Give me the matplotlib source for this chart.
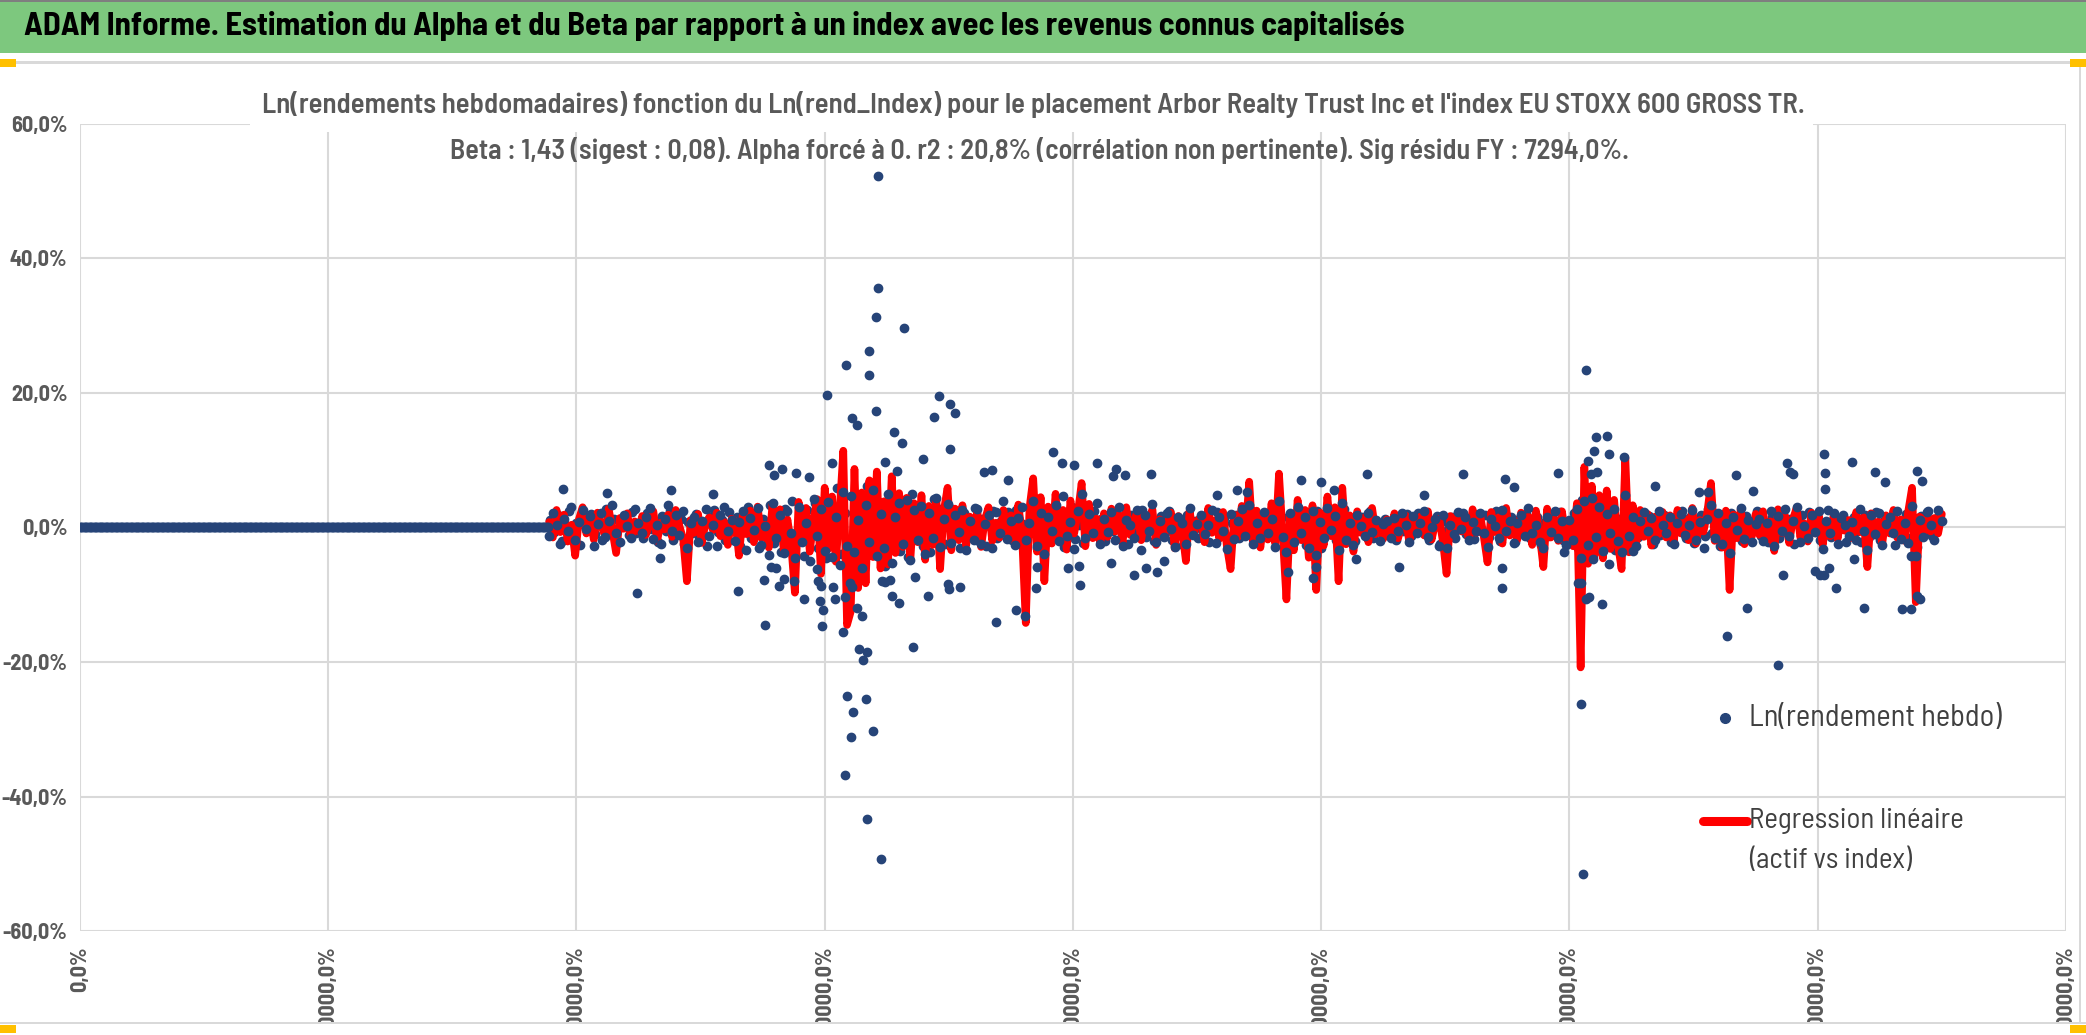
import numpy as np
import matplotlib
matplotlib.use("Agg")
import matplotlib.pyplot as plt
from matplotlib.patches import Rectangle
from matplotlib.lines import Line2D
from matplotlib.ticker import FuncFormatter, MultipleLocator

plt.rcParams['font.family'] = ['Barlow Semi Condensed', 'Archivo Narrow', 'Liberation Sans', 'DejaVu Sans']

# ---- data (weeks on x, log weekly returns in % on y) ----
flat_weeks = 378          # weeks 0..377 : no price history, value 0
week_start = 378          # first week with real data
week_step = 3             # the band below is read every 3 weeks

# regression line (beta * ln index return), %
red_vals = [
    0.8, -1.5, 2.6, -0.7, 1.9, -2.1, 0.4, -4.2, 1.2, 3.0, -0.9, 1.6, -1.8, 2.2, 0.3, -1.2, 2.8, -0.5, -3.8, 1.4, -0.2, 2.1, -1.6, 0.9, -0.6,
    1.7, -1.1, 0.5, 2.4, -2.0, 0.7, -0.3, 1.9, -1.4, 2.6, 0.2, -1.7, -8.0, 1.1, -0.8, 2.0, -2.3, 0.6, 1.5, -0.4, 2.2, -1.3, 0.8, -2.6, 1.3,
    0.9, -4.2, 1.8, -1.0, 2.5, -2.2, 3.1, -1.6, 0.4, -3.0, 3.5, -0.8, 2.7, -3.4, 1.2, -2.5, -9.7, 3.8, -1.9, 2.9, -3.6, 1.0, 4.2, -6.9, 5.9,
    -3.2, 4.6, -5.1, 2.3, 11.4, -14.5, -12.5, 8.7, -9.0, 5.2, -8.3, 7.0, -4.4, 8.3, -6.1, 3.9, -5.5, 7.6, -3.8, 5.1, -2.9, 4.4, -4.9, 3.6, -2.2,
    4.8, -4.8, 3.2, -2.6, 4.1, -6.2, 2.5, 5.9, -3.4, 2.8, -1.9, 3.3, -2.7, 1.6, -1.2, 2.4, -2.9, 1.1, 3.0, -2.0, 0.7, -1.5, 2.6, -0.9, 1.8,
    -2.2, 3.4, -1.1, -14.2, 2.9, 7.3, -3.6, 4.5, -8.0, 3.1, -2.4, 5.0, -1.8, 2.6, -3.3, 4.0, -0.9, 2.2, 6.6, -2.8, 3.5, -1.6, 1.3, -2.5, 2.1,
    -1.4, 2.8, -0.6, 1.9, -2.3, 3.0, -1.1, 0.8, 2.4, -1.9, 1.5, -0.7, 2.7, -2.6, 1.2, -1.5, 0.6, 2.2, -3.1, 1.7, -0.4, -5.0, 2.5, -1.2, 0.9,
    1.6, -2.2, 2.9, -0.8, 1.1, -1.7, 2.3, -2.8, -6.2, 1.9, -1.4, 3.2, -0.9, 6.8, -2.1, 2.5, -3.0, 1.4, -1.8, 3.6, -2.4, 8.0, -1.2, -10.7, 2.0,
    -3.4, 4.1, -1.9, 2.6, -4.5, 3.3, -9.3, 2.2, -2.7, 4.6, -1.3, 3.0, -8.0, 5.9, -2.5, 1.8, -3.6, 2.4, -0.8, 1.5, -2.2, 2.9, -1.0, 0.6, -1.7,
    1.2, -0.9, 2.1, -1.6, 0.7, 1.8, -2.3, 0.9, -0.5, 1.6, -1.2, 2.4, -1.8, 0.8, 1.3, -2.0, -6.9, 1.7, -1.1, 2.2, -0.6, 1.0, -1.9, 2.7, -0.8,
    1.9, -1.4, -5.2, 2.3, -0.7, 1.5, -2.4, 2.9, -1.2, 0.6, -1.8, 2.2, -0.9, 1.6, -2.6, 2.5, -1.1, -5.9, 2.8, -1.5, 1.2, -2.0, 2.4, -1.6, 0.5,
    -2.8, 3.6, -20.8, 9.0, -5.4, 6.2, -3.9, 4.8, -4.6, 5.5, -3.2, 4.1, -2.5, -6.2, 10.4, -3.7, 3.3, -2.1, 2.6, -1.4, 2.0, -2.7, 1.6, -1.0, 2.3,
    -1.5, 1.8, -2.2, 2.6, -0.9, 1.3, -1.9, 2.9, -2.4, 1.1, -0.6, 2.2, 6.6, -2.0, 1.4, -3.0, 2.5, -9.3, 1.9, -1.6, 2.8, -2.5, 0.8, -1.3, 2.0,
    -1.1, 2.4, -1.8, 0.9, -3.5, 2.7, -0.8, 1.6, -2.3, 1.2, 2.9, -1.5, 0.6, -2.1, 2.2, -0.9, 1.7, -2.6, 0.8, -1.3, 2.0, -1.7, 1.4, -0.5, 1.1,
    -1.6, 2.3, -0.7, 1.5, -5.9, 2.1, -1.2, 0.9, -2.4, 1.8, -0.9, 2.6, -1.5, 1.2, -2.0, 2.5, 5.9, -11.1, 1.6, -1.1, 2.2, -0.6, 1.4, -0.9, 2.0,
]

# weekly log returns of the asset, band weeks 378, 381, ... (%)
blue_core = [
    -1.2, 2.1, 0.4, -2.5, 1.3, -0.6, 3.1, -1.9, 0.8, 2.6, -0.3, 1.7, -2.8, 0.5, 2.2, -1.4, 1.0, 3.4, -0.9, -2.1, 1.9, 0.2, -1.6, 2.8, 0.6,
    -0.8, 1.6, 2.9, -1.7, 0.3, -2.4, 1.2, 3.3, -0.5, 1.9, -1.1, 2.4, -3.0, 0.7, 1.5, -2.2, 0.9, 2.7, -1.3, 0.4, -2.7, 1.8, 3.0, -0.6, 1.1,
    -2.0, 0.8, 2.5, -3.3, 1.4, -0.4, 2.9, -2.6, 0.2, -4.1, 3.6, -1.5, 1.9, -3.8, 2.4, -0.9, -4.6, 3.1, -2.2, 0.6, -5.0, 4.3, -1.2, 2.7, -3.5,
    3.8, -4.4, 1.6, -5.6, 5.2, -2.8, 4.6, -3.7, 1.1, -6.0, 3.4, -2.1, 5.5, -4.2, 2.0, -3.0, 4.9, -5.3, 1.5, 3.7, -2.4, 4.1, -4.8, 2.6, -1.8,
    3.2, -3.9, 2.2, -1.6, 4.4, -2.9, 1.3, 3.5, -2.3, 1.8, -0.7, 2.6, -3.4, 1.0, -1.9, 2.8, -2.5, 0.5, 1.9, -3.1, 2.3, -0.8, 3.9, -1.7, 0.9,
    -2.6, 1.4, 3.1, -1.8, 0.6, 4.0, -2.7, 2.2, -3.9, 1.5, -0.5, 3.3, -2.0, 4.6, -1.3, 0.8, -3.2, 2.5, 5.0, -1.6, 2.0, -0.9, 3.6, -2.4, 1.2,
    -0.7, 2.3, -1.9, 3.0, -2.8, 1.1, 0.4, -1.5, 2.6, -3.3, 1.8, -0.6, 3.5, -2.2, 0.9, -1.4, 2.1, -0.3, -2.9, 1.6, 0.7, -2.4, 2.9, -1.1, 0.5,
    1.9, -1.0, 0.4, 2.6, -2.3, 1.5, -0.6, -3.2, 2.0, -1.7, 0.9, 2.8, -1.2, 3.4, -2.5, 0.7, -1.6, 2.3, -0.8, 1.3, -2.9, 3.9, -1.4, -3.6, 2.2,
    -2.1, 3.1, -0.9, 1.6, -3.0, 2.4, -4.1, 0.8, -1.5, 2.9, -0.4, 1.7, -3.4, 3.6, -1.9, 0.6, -2.6, 1.9, 0.2, -1.3, 2.2, -0.7, 1.1, -2.0, 0.5,
    0.9, -1.6, 1.4, -0.5, 2.1, 0.3, -2.2, 1.7, -0.9, 0.6, 2.5, -1.4, 0.1, 1.2, -2.7, 1.9, -3.1, 0.4, -1.0, 2.3, -0.2, 1.5, -1.8, 0.8, -0.6,
    2.2, -0.8, -2.9, 1.3, 0.2, -1.6, 2.6, -0.5, 1.0, -2.3, 0.7, 1.8, -1.2, 2.9, -0.9, 0.4, -2.1, -3.0, 1.5, -0.7, 2.4, -1.5, 0.9, -2.6, 1.1,
    -1.9, 2.7, -4.5, 3.9, -2.6, 4.4, -1.4, 3.1, -3.5, 2.0, -0.8, 2.8, -2.0, -3.6, 4.8, -1.2, 1.6, -2.7, 0.9, 2.3, -0.6, 1.4, -1.9, 2.5, 0.3,
    -0.9, 1.5, -2.4, 0.6, 2.0, -1.1, 0.3, 2.6, -1.9, 0.8, -3.0, 1.2, 3.4, -1.6, 2.2, -2.5, 0.7, -3.8, 1.6, -0.4, 2.9, -1.7, 1.1, -2.2, 0.5,
    1.3, -2.0, 0.6, 2.4, -2.8, 1.7, -0.5, 2.8, -1.3, 0.9, 3.1, -2.2, 0.2, -1.6, 1.9, -0.7, 2.5, -3.2, 1.0, -0.9, 2.2, -2.5, 1.4, 0.3, -1.2,
    0.8, -1.9, 2.7, -0.6, -3.4, 1.8, -1.0, 2.2, -2.6, 0.5, 1.6, -0.9, 2.4, -1.7, 0.6, -2.3, 3.2, -4.3, 1.1, -1.4, 2.3, 0.4, -1.8, 2.6, 1.0,
]

# band weeks 379, 382, ... (%)
blue_core_b = [
    1.1, -0.7, 1.8, -2.0, 0.3, 2.4, -1.3, 0.6, -2.6, 1.5, -0.2, 2.0, -1.0, 0.9, -1.8, 2.7, -0.4, 1.2, -2.3, 0.5, 1.4, -1.1, 2.3, -0.8, 0.2,
    -1.5, 2.2, -0.3, 1.0, -2.1, 1.7, -0.6, 2.5, -1.8, 0.4, 1.3, -2.5, 0.8, -0.9, 2.0, -1.4, 0.5, -2.8, 1.6, 2.6, -0.7, 1.1, -1.9, 2.3, -0.2,
    1.6, -2.7, 0.6, 3.0, -1.6, 2.2, -3.1, 1.3, -0.5, 3.4, -2.3, 0.9, -3.7, 2.8, -1.1, 4.0, -2.0, 1.4, -4.2, 2.6, -0.8, 3.6, -3.0, 1.8, -4.6,
    4.4, -2.5, 5.8, -3.9, 2.1, -6.3, 4.7, -1.6, 3.8, -5.1, 6.2, -2.9, 4.3, -4.0, 1.7, -5.8, 3.1, -2.2, 4.6, -3.5, 2.4, -4.4, 5.0, -1.3, 3.3,
    -2.7, 1.9, -3.6, 4.2, -1.4, 2.7, -2.4, 3.0, -0.9, 1.5, -3.0, 2.2, -1.5, 0.7, 2.9, -2.0, 1.2, -2.7, 0.8, 2.4, -1.6, 1.0, -0.4, 2.3, -1.9,
    2.6, -1.2, 0.5, -3.0, 2.1, -0.8, 3.4, -2.2, 1.0, -1.6, 2.8, -0.6, 1.9, -2.9, 0.7, 3.1, -1.7, 0.4, -2.3, 1.6, -1.0, 2.5, -0.3, 1.3, -2.0,
    1.4, -0.5, 2.2, -1.7, 0.8, -2.5, 1.9, -0.9, 0.3, 2.6, -1.4, 1.1, -2.0, 0.6, 1.7, -0.8, 2.4, -1.9, 0.2, 1.3, -2.6, 1.8, -0.6, 0.9, -1.5,
    -0.4, 1.7, -2.1, 0.8, 2.3, -1.0, 1.4, -2.5, 0.6, 1.9, -1.6, 0.3, 2.7, -0.9, 1.2, -2.2, 0.5, 1.8, -1.3, 2.6, -0.6, 1.0, -2.8, 1.5, -0.2,
    2.0, -1.2, 0.7, -2.6, 1.8, -0.4, 2.4, -3.0, 1.1, -0.8, 2.1, -1.9, 0.5, 2.8, -1.1, 1.4, -2.0, 0.3, 1.6, -0.9, 2.5, -1.6, 0.8, -0.3, 1.3,
    -1.1, 0.6, -1.9, 1.4, -0.5, 2.0, -1.3, 0.8, 2.2, -0.7, 1.1, -1.8, 0.4, 1.7, -2.4, 0.9, -0.2, 1.5, -1.5, 0.7, 2.1, -1.0, 0.3, -1.7, 1.2,
    -0.6, 1.8, -1.4, 0.5, 2.4, -2.0, 0.9, -0.4, 1.6, -2.2, 1.3, -0.8, 2.0, -1.6, 0.2, 1.5, -2.6, 0.8, -1.2, 1.9, -0.5, 2.3, -1.8, 0.6, -1.0,
    2.2, -3.0, 4.1, -2.4, 3.5, -4.2, 1.8, -2.9, 4.0, -1.6, 2.6, -3.3, 1.3, -1.9, 2.9, -2.2, 1.0, -1.4, 2.1, -0.6, 1.7, -2.5, 0.8, -1.1, 1.9,
    1.0, -2.1, 0.7, -0.5, 2.4, -1.5, 1.6, -2.3, 0.4, 1.9, -1.2, 2.7, -0.8, 1.3, -2.7, 0.9, -1.6, 2.2, -0.3, 1.1, -2.0, 1.7, -0.9, 0.5, 2.4,
    -1.3, 0.8, -2.2, 1.5, 0.4, -1.6, 2.1, -0.9, 1.3, -2.5, 0.7, 1.9, -1.1, 2.3, -0.6, 1.0, -1.9, 0.5, 2.6, -1.4, 0.9, -0.3, 1.8, -2.1, 0.6,
    1.5, -0.6, -2.2, 1.9, -1.4, 0.7, 2.3, -1.8, 0.9, -0.4, 1.6, -2.6, 0.8, -1.0, 2.0, -1.5, 0.3, -2.9, 1.7, -0.7, 2.5, -1.2, 0.6, 1.8,
]

# weeks outside the band (week, %)
outlier_weeks = [
    389, 425, 449, 467, 476, 510, 530, 552, 551, 555, 557, 559, 561, 563, 566, 567, 575, 577, 583, 587,
    594, 595, 597, 596, 599, 598, 602, 606, 607, 608, 615, 616, 617, 620, 622, 622, 626, 626, 630, 628,
    634, 631, 618, 623, 621, 633, 639, 616, 634, 645, 643, 643, 641, 664, 636, 636, 641, 656, 662, 692,
    688, 701, 705, 701, 649, 658, 679, 728, 735, 646, 649, 653, 654, 660, 671, 673, 683, 699, 700, 709,
    738, 748, 754, 761, 770, 771, 784, 791, 796, 801, 805, 806, 819, 831, 832, 835, 842, 849, 859, 863,
    868, 873, 916, 932, 940, 973, 984, 993, 996, 1000, 1010, 1028, 1037, 1063, 1083, 1114,
    1146, 1146, 1148, 1155, 1191, 1196, 1207, 1209, 1213, 1216, 1209, 1211, 1213, 1215, 1217, 1219, 1220, 1221, 1222, 1226,
    1230, 1232, 1232, 1244, 1251, 1269, 1304, 1312, 1327, 1334, 1343, 1348, 1368, 1372, 1375, 1378, 1380, 1398, 1402, 1405,
    1405, 1406, 1406, 1409, 1415, 1428, 1429, 1437, 1446, 1454, 1468, 1475, 1475, 1480, 1480, 1482, 1484,
]
outlier_vals = [
    5.7, 5.1, -9.7, -4.5, 5.5, 4.9, -9.5, -14.5, -7.8, 9.3, -5.9, 7.8, -6.1, -8.7, 8.7, -7.6, -8.0, 8.1, -10.7, 7.5,
    -6.2, -8.0, -8.7, -11.0, -12.3, -14.7, 19.7, 9.6, -8.9, -10.6, -15.6, -10.4, 24.1, -8.3, -8.8, 16.3, 15.2, -11.9, -13.1, -18.1,
    -18.5, -19.7, -25.1, -27.5, -31.1, -25.5, -30.3, -36.8, -43.4, -49.3, 52.2, 35.6, 31.2, 29.7, 26.2, 22.6, 17.3, 14.2, 12.5, 19.6,
    16.4, 18.3, 17.0, 11.6, 9.7, 8.4, 10.2, 8.3, 8.5, -8.0, -8.1, -7.8, -10.2, -11.3, -17.8, -7.3, -10.2, -8.4, -9.2, -8.9,
    -14.0, 7.1, -12.3, -13.1, -9.0, -5.9, 11.2, 9.6, -6.1, 9.3, -5.8, -8.5, 9.6, -5.3, 7.6, 8.7, 7.8, -7.1, -6.1, 8.0,
    -6.6, -5.0, 4.8, 5.6, 5.3, -6.6, 7.1, -7.5, -5.9, 6.8, 5.5, -4.7, 7.9, -5.9, 4.8, 7.9,
    -6.0, -9.0, 7.2, 6.0, 8.1, -3.7, -8.3, -8.3, -10.7, -10.4, -26.3, -51.5, 23.4, 9.9, 8.0, -4.7, 11.3, 13.4, 8.3, -11.4,
    13.6, 10.9, -5.5, 10.4, -3.5, 6.2, 5.3, 5.3, -16.2, 7.8, -11.9, 5.4, -20.5, -7.1, 9.6, 8.2, 8.0, -6.4, -7.1, -7.1,
    10.9, 8.1, 5.7, -6.1, -9.0, 9.7, -4.7, -12.0, 8.3, 6.8, -12.1, -12.1, -4.3, 8.4, -10.2, -10.7, 6.9,
]

title = "ADAM Informe. Estimation du Alpha et du Beta par rapport à un index avec les revenus connus capitalisés"
subtitle_1 = "Ln(rendements hebdomadaires) fonction du Ln(rend_Index) pour le placement Arbor Realty Trust Inc et l'index EU STOXX 600 GROSS TR."
subtitle_2 = "Beta : 1,43 (sigest : 0,08). Alpha forcé à 0. r2 : 20,8% (corrélation non pertinente). Sig résidu FY : 7294,0%."
label_blue = "Ln(rendement hebdo)"
label_red = ["Regression linéaire", "(actif vs index)"]

# ---- assemble series ----
flat_x = np.arange(flat_weeks)
flat_y = np.zeros(flat_weeks)
red_x = week_start + week_step * np.arange(len(red_vals))
core_x = week_start + week_step * np.arange(len(blue_core))
core_b_x = week_start + 1 + week_step * np.arange(len(blue_core_b))
front_x = np.concatenate([flat_x, core_x, outlier_weeks])
front_y = np.concatenate([flat_y, blue_core, outlier_vals])

BLUE = '#264478'
RED = '#FF0000'
GREEN = '#7DC87E'
GREY_TXT = '#595959'
LEG_TXT = '#404040'
GRID = '#D9D9D9'

W, H = 2086, 1035
fig = plt.figure(figsize=(W / 100, H / 100), dpi=100)
fig.patch.set_facecolor('white')


def fit_width(txt, target_px):
    fig.canvas.draw()
    w = txt.get_window_extent().width
    txt.set_fontsize(txt.get_fontsize() * target_px / w)


# title bar
fig.patches.append(Rectangle((0, 0.949), 1, 0.051, transform=fig.transFigure, facecolor=GREEN, edgecolor='none'))
fig.patches.append(Rectangle((0, 0.998), 1, 0.002, transform=fig.transFigure, facecolor='#7F7F7F', edgecolor='none'))
fig.patches.append(Rectangle((0, 0.938), 1, 0.003, transform=fig.transFigure, facecolor=GRID, edgecolor='none'))
t_title = fig.text(24 / W, 1 - 26 / H, title, fontsize=26, fontweight='bold', color='black', va='center', ha='left')

ax = fig.add_axes([0.0383, 0.1003, 0.9521, 0.7802])
# part of the weekly dots sits under the red line, the rest above it (as in the Excel overlap)
ax.plot(core_b_x, blue_core_b, 'o', ms=6, color=BLUE, mec=BLUE, zorder=1.5)
ax.plot(red_x, red_vals, color=RED, lw=5.5, solid_joinstyle='round', solid_capstyle='round', zorder=2)
ax.plot(front_x, front_y, 'o', ms=6, color=BLUE, mec=BLUE, zorder=3)

ax.set_xlim(0, 1600)
ax.set_ylim(-60, 60)
ax.xaxis.set_major_locator(MultipleLocator(200))
ax.yaxis.set_major_locator(MultipleLocator(20))
ax.yaxis.set_major_formatter(FuncFormatter(lambda v, p: f"{v:.1f}".replace('.', ',') + '%'))
ax.xaxis.set_major_formatter(FuncFormatter(lambda v, p: f"{v * 100:.1f}".replace('.', ',') + '%'))
ax.grid(True, color=GRID, lw=1.5, zorder=0)
ax.set_axisbelow(True)
for s in ax.spines.values():
    s.set_visible(False)
ax.tick_params(axis='both', length=0, colors=GREY_TXT, labelsize=16)
ax.tick_params(axis='y', pad=9)
ax.tick_params(axis='x', pad=11, labelrotation=90)
for lab in ax.get_xticklabels() + ax.get_yticklabels():
    lab.set_fontweight('bold')
for lab in ax.get_xticklabels():
    lab.set_va('top')

# white box of the chart title hides the top gridline
fig.patches.append(Rectangle((250 / W, 1 - 132 / H), (1813 - 250) / W, 17 / H, transform=fig.transFigure,
                             facecolor='white', edgecolor='none', zorder=1))
t_sub1 = fig.text(1033 / W, 1 - 104 / H, subtitle_1, ha='center', va='center', fontsize=20,
                  color=GREY_TXT, fontweight='semibold', zorder=2)
t_sub2 = fig.text(1040 / W, 1 - 150 / H, subtitle_2, ha='center', va='center', fontsize=20,
                  color=GREY_TXT, fontweight='semibold', zorder=2)

# legend drawn by hand to keep Excel's layout
ax.add_line(Line2D([0.8285], [0.2636], transform=ax.transAxes, marker='o', ms=7, color=BLUE, lw=0, clip_on=False))
t_l1 = ax.text(0.8406, 0.2636, label_blue, transform=ax.transAxes, va='center', ha='left', fontsize=20, color=LEG_TXT)
ax.add_line(Line2D([0.8171, 0.8393], [0.1367, 0.1367], transform=ax.transAxes, color=RED, lw=6.5,
                   solid_capstyle='round', clip_on=False))
t_l2 = ax.text(0.8406, 0.1367, label_red[0], transform=ax.transAxes, va='center', ha='left', fontsize=20, color=LEG_TXT)
t_l3 = ax.text(0.8406, 0.0873, label_red[1], transform=ax.transAxes, va='center', ha='left', fontsize=20, color=LEG_TXT)

fit_width(t_title, 1383)
fit_width(t_sub1, 1543)
fit_width(t_sub2, 1177)
fit_width(t_l1, 253)
fit_width(t_l2, 215)
t_l3.set_fontsize(t_l2.get_fontsize())

# chart area bottom edge hides the overflowing x labels
fig.patches.append(Rectangle((0, 0), 1, 0.013, transform=fig.transFigure, facecolor='white', edgecolor='none', zorder=10))
fig.patches.append(Rectangle((0, 0.011), 1, 0.002, transform=fig.transFigure, facecolor=GRID, edgecolor='none', zorder=11))
fig.patches.append(Rectangle((0.9965, 0.013), 0.001, 0.925, transform=fig.transFigure, facecolor=GRID, edgecolor='none', zorder=11))
for (x0, y0) in [(0, 0.935), (0.9925, 0.935), (0, 0.002), (0.9925, 0.002)]:
    fig.patches.append(Rectangle((x0, y0), 0.0075, 0.008, transform=fig.transFigure, facecolor='#FFC000', edgecolor='none', zorder=12))

fig.savefig('out.png', dpi=100, facecolor='white')
